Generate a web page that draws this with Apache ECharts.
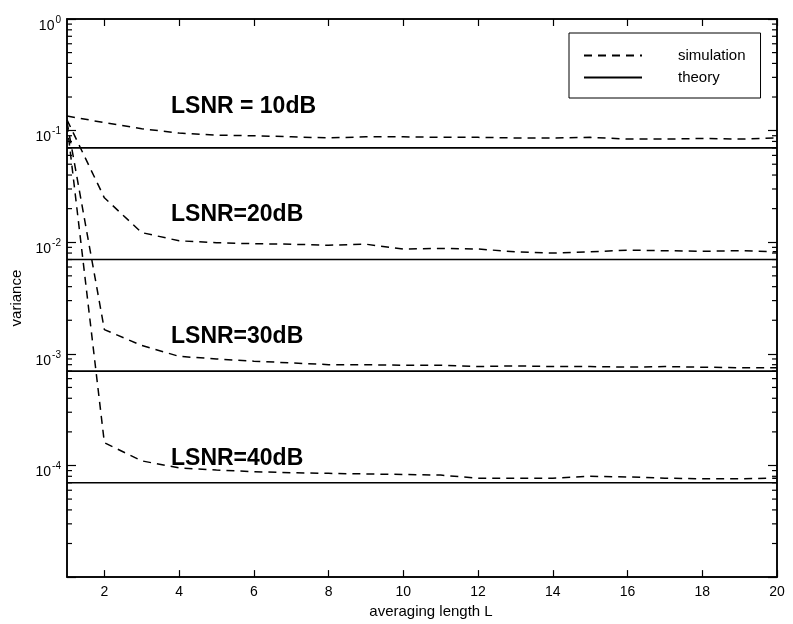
<!DOCTYPE html>
<html>
<head>
<meta charset="utf-8">
<script src="https://cdn.jsdelivr.net/npm/echarts@6/dist/echarts.min.js"></script>
<style>
html,body{margin:0;padding:0;background:#fff;}
#main{width:793px;height:624px;}
</style>
</head>
<body>
<div id="main"></div>
<script>
var lengths = [1,2,3,4,5,6,7,8,9,10,11,12,13,14,15,16,17,18,19,20];
var xTicks = [2,4,6,8,10,12,14,16,18,20];
var yLabelExps = [0,-1,-2,-3,-4];
var sim10 = [0.135,0.118,0.104,0.095,0.091,0.090,0.088,0.086,0.088,0.088,0.087,0.087,0.086,0.086,0.087,0.084,0.084,0.085,0.084,0.086];
var sim20 = [0.125,0.025,0.0122,0.0103,0.0099,0.0097,0.0096,0.0094,0.0096,0.0087,0.0088,0.0087,0.0082,0.0080,0.0082,0.0085,0.0084,0.0083,0.0084,0.0082];
var sim30 = [0.12,0.00165,0.00119,0.00095,0.0009,0.00086,0.00083,0.0008,0.0008,0.00079,0.00079,0.00077,0.00078,0.00077,0.00077,0.00076,0.00077,0.00076,0.00075,0.00075];
var sim40 = [0.115,0.00016,0.00011,0.000095,0.000091,0.000088,0.000086,0.000085,0.000084,0.000083,0.000082,0.000077,0.000077,0.000077,0.00008,0.000079,0.000077,0.000076,0.000076,0.000077];
var theoryLevels = [0.07,0.007,0.0007,0.00007];
var snrLabels = ['LSNR = 10dB','LSNR=20dB','LSNR=30dB','LSNR=40dB'];

var FONT = '"Liberation Sans", Arial, Helvetica, sans-serif';
var chart = echarts.init(document.getElementById('main'));

function pairs(ys){
    return lengths.map(function(x, i){ return [x, ys[i]]; });
}

var series = [];
[sim10, sim20, sim30, sim40].forEach(function(s){
    series.push({
        name: 'simulation',
        type: 'line',
        data: pairs(s),
        symbol: 'none',
        silent: true,
        lineStyle: {color: '#000', width: 1.5, type: [8, 6]}
    });
});
theoryLevels.forEach(function(v){
    series.push({
        name: 'theory',
        type: 'line',
        data: [[lengths[0], v], [lengths[lengths.length - 1], v]],
        symbol: 'none',
        silent: true,
        lineStyle: {color: '#000', width: 1.6, type: 'solid'}
    });
});

function expLabel(v){
    var e = Math.round(Math.log(v) / Math.LN10);
    if (yLabelExps.indexOf(e) < 0) return '';
    return '{b|10}{s|' + (e === 0 ? '0' : '-' + Math.abs(e)) + '}';
}

var option = {
    animation: false,
    backgroundColor: '#fff',
    grid: {left: 67, right: 16, top: 19, bottom: 41, show: true, borderColor: '#000', borderWidth: 1.5},
    legend: {
        left: 569, top: 33, orient: 'vertical',
        data: ['simulation', 'theory'],
        itemWidth: 58, itemHeight: 14, itemGap: 7,
        padding: [15, 15, 13, 14],
        borderColor: '#000', borderWidth: 1,
        selectedMode: false,
        itemStyle: {color: 'rgba(0,0,0,0)', borderColor: 'rgba(0,0,0,0)', borderWidth: 0, opacity: 0},
        textStyle: {fontSize: 15, color: '#000', fontFamily: FONT, padding: [0, 0, 0, 31]}
    },
    xAxis: [{
        type: 'value', min: 1, max: 20, position: 'bottom',
        axisLine: {lineStyle: {color: '#000', width: 1.5}},
        axisTick: {inside: true, length: 7, customValues: xTicks, lineStyle: {color: '#000', width: 1.2}},
        axisLabel: {customValues: xTicks, color: '#000', fontSize: 14, margin: 8, fontFamily: FONT},
        splitLine: {show: false},
        name: 'averaging length L', nameLocation: 'middle', nameGap: 24,
        nameTextStyle: {fontSize: 15, color: '#000', fontFamily: FONT, padding: [0, 0, 0, 18]}
    }, {
        type: 'value', min: 1, max: 20, position: 'top',
        axisLine: {lineStyle: {color: '#000', width: 1.5}},
        axisTick: {inside: true, length: 7, customValues: xTicks, lineStyle: {color: '#000', width: 1.2}},
        axisLabel: {show: false},
        splitLine: {show: false}
    }],
    yAxis: [{
        type: 'log', logBase: 10, min: 1e-5, max: 1,
        axisLine: {lineStyle: {color: '#000', width: 1.5}},
        axisTick: {inside: true, length: 9, lineStyle: {color: '#000', width: 1.2}},
        axisLabel: {
            margin: 6, formatter: expLabel, verticalAlign: 'top',
            rich: {
                b: {fontSize: 14, color: '#000', fontFamily: FONT, lineHeight: 14},
                s: {fontSize: 10, color: '#000', fontFamily: FONT, lineHeight: 10, padding: [0, 0, 12, 1]}
            }
        },
        splitLine: {show: false},
        name: 'variance', nameLocation: 'middle', nameGap: 42,
        nameTextStyle: {fontSize: 15, color: '#000', fontFamily: FONT}
    }, {
        type: 'log', logBase: 10, min: 1e-5, max: 1, position: 'right',
        axisLine: {lineStyle: {color: '#000', width: 1.5}},
        axisTick: {inside: true, length: 9, lineStyle: {color: '#000', width: 1.2}},
        axisLabel: {show: false},
        splitLine: {show: false}
    }],
    series: series
};
chart.setOption(option);

// annotation texts and minor log ticks, positioned through the axis scale
var graphics = [];
var labelCenters = [106.5, 215, 336.5, 458.5];
snrLabels.forEach(function(t, i){
    graphics.push({
        type: 'text', x: 171, y: labelCenters[i], silent: true,
        style: {text: t, fill: '#000', font: 'bold 23px ' + FONT, verticalAlign: 'middle'}
    });
});
var xLeft = chart.convertToPixel({xAxisIndex: 0}, 1);
var xRight = chart.convertToPixel({xAxisIndex: 0}, 20);
for (var e = -5; e < 0; e++) {
    for (var k = 2; k <= 9; k++) {
        var py = chart.convertToPixel({yAxisIndex: 0}, k * Math.pow(10, e));
        graphics.push({type: 'line', silent: true, shape: {x1: xLeft, y1: py, x2: xLeft + 5, y2: py}, style: {stroke: '#000', lineWidth: 1.2}});
        graphics.push({type: 'line', silent: true, shape: {x1: xRight - 5, y1: py, x2: xRight, y2: py}, style: {stroke: '#000', lineWidth: 1.2}});
    }
}
chart.setOption({graphic: graphics});
</script>
</body>
</html>
